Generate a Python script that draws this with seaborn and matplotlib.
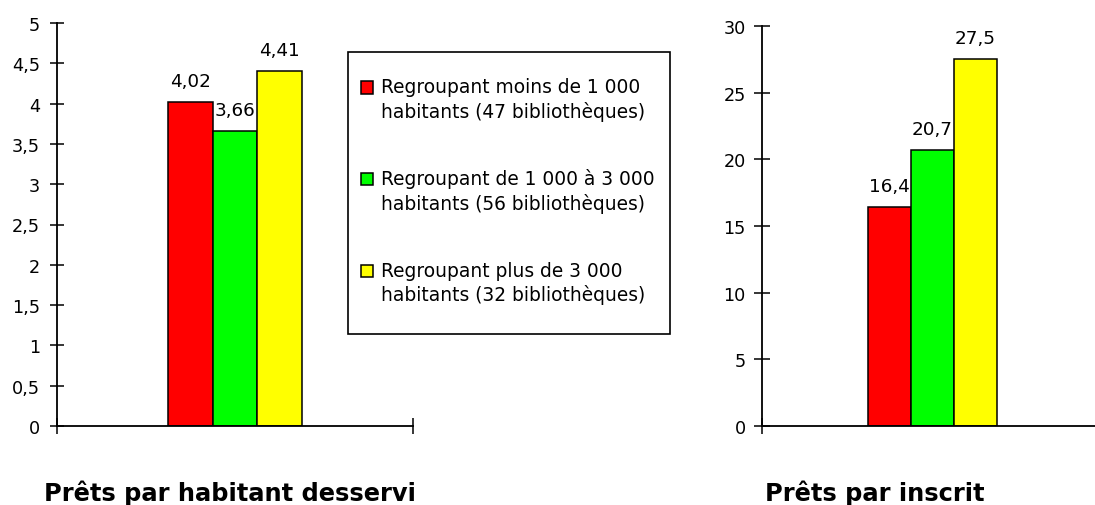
import matplotlib
matplotlib.use("Agg")
import matplotlib.pyplot as plt
import matplotlib.patches as mpatches
from matplotlib.legend_handler import HandlerPatch
from matplotlib.ticker import FuncFormatter
import numpy as np
import pandas as pd
import seaborn as sns

# data
groups = [
    "Regroupant moins de 1 000\nhabitants (47 bibliothèques)",
    "Regroupant de 1 000 à 3 000\nhabitants (56 bibliothèques)",
    "Regroupant plus de 3 000\nhabitants (32 bibliothèques)",
]
colors = ["#FF0000", "#00FF00", "#FFFF00"]
panel_titles = ["Prêts par habitant desservi", "Prêts par inscrit"]
prets_par_habitant = [4.02, 3.66, 4.41]
prets_par_inscrit = [16.4, 20.7, 27.5]
yticks_habitant = [0, 0.5, 1, 1.5, 2, 2.5, 3, 3.5, 4, 4.5, 5]
yticks_inscrit = [0, 5, 10, 15, 20, 25, 30]

sns.set_style("white")
plt.rcParams['font.family'] = ['DejaVu Sans']
plt.rcParams['text.color'] = 'black'
plt.rcParams['axes.labelcolor'] = 'black'
plt.rcParams['xtick.color'] = 'black'
plt.rcParams['ytick.color'] = 'black'

W, H = 1095, 506
fig = plt.figure(figsize=(W / 100, H / 100), dpi=100)
fig.patch.set_facecolor("white")


def px_box(x0, x1, ytop, ybot):
    # pixel box -> figure fraction [left, bottom, width, height]
    return [x0 / W, 1 - ybot / H, (x1 - x0) / W, (ybot - ytop) / H]


def comma(v, pos=None):
    return f"{v:g}".replace(".", ",")


def top_square(legend, orig_handle, xdescent, ydescent, width, height, fontsize):
    # put the legend square next to the first line of the label
    return mpatches.Rectangle((-xdescent, -ydescent + 9), width, height)


panels = [
    dict(values=prets_par_habitant, ticks=yticks_habitant, box=px_box(57, 413, 24, 427),
         fmt="{:.2f}", tlen=9.5, tpad=7.5),
    dict(values=prets_par_inscrit, ticks=yticks_inscrit, box=px_box(762, 1103, 27, 427),
         fmt="{:.1f}", tlen=11.5, tpad=6),
]

axes = []
for title, p in zip(panel_titles, panels):
    ax = fig.add_axes(p["box"])
    df = pd.DataFrame({"panel": title, "groupe": groups, "valeur": p["values"]})
    sns.barplot(data=df, x="panel", y="valeur", hue="groupe", hue_order=groups,
                palette=dict(zip(groups, colors)), width=0.376, gap=0,
                edgecolor="black", linewidth=1.1, saturation=1, legend=False, ax=ax)
    for cont, v in zip(ax.containers, p["values"]):
        ax.bar_label(cont, labels=[p["fmt"].format(v).replace(".", ",")],
                     padding=8.6, fontsize=13.2, color="black")
    ax.set_xlim(-0.5, 0.5)
    ax.set_ylim(p["ticks"][0], p["ticks"][-1])
    ax.set_yticks(p["ticks"])
    ax.yaxis.set_major_formatter(FuncFormatter(comma))
    ax.set_xticks([-0.5, 0.5])
    ax.set_xticklabels([])
    ax.set_xlabel("")
    ax.set_ylabel("")
    ax.patch.set_alpha(0)
    for s in ["top", "right"]:
        ax.spines[s].set_visible(False)
    for s in ["left", "bottom"]:
        ax.spines[s].set_color("black")
        ax.spines[s].set_linewidth(1.3)
    ax.tick_params(axis="y", direction="inout", length=p["tlen"], width=1.1,
                   pad=p["tpad"], labelsize=12.7, colors="black", left=True)
    ax.tick_params(axis="x", direction="inout", length=12, width=1.1, bottom=True,
                   colors="black")
    axes.append(ax)

# legend box
frame = mpatches.Rectangle((348 / W, 1 - 335 / H), (670 - 348) / W, (335 - 53) / H,
                           transform=fig.transFigure, facecolor="white",
                           edgecolor="black", linewidth=1.2, zorder=3)
fig.patches.append(frame)
handles = [c.patches[0] for c in axes[0].containers]
leg = fig.legend(handles, groups, loc="upper left", bbox_to_anchor=(361 / W, 1 - 78 / H),
                 frameon=False, borderpad=0, borderaxespad=0, fontsize=13.4,
                 handlelength=0.67, handleheight=0.67, handletextpad=0.43,
                 labelspacing=2.55,
                 handler_map={mpatches.Rectangle: HandlerPatch(patch_func=top_square)})
for t in leg.get_texts():
    t.set_linespacing(1.3)
    t.set_color("black")
leg.set_zorder(4)

fig.text(229.5 / W, 1 - 501 / H, panel_titles[0], ha="center", va="baseline",
         fontsize=17.4, fontweight="bold", color="black")
fig.text(875 / W, 1 - 501 / H, panel_titles[1], ha="center", va="baseline",
         fontsize=17.4, fontweight="bold", color="black")

fig.savefig("out.png", dpi=100, facecolor="white")
